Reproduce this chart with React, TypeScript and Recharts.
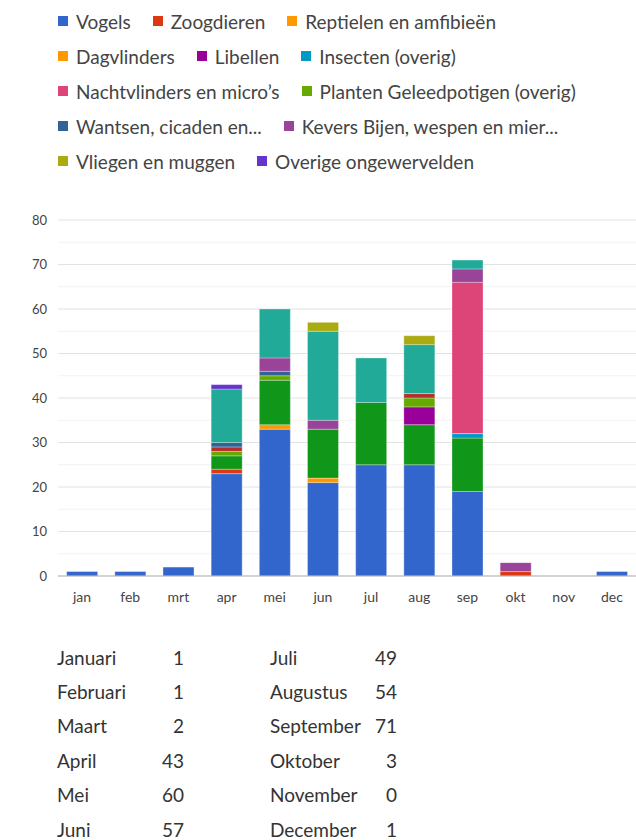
import { Bar, BarChart, CartesianGrid, XAxis, YAxis } from 'recharts';

const MONTHS = ['jan', 'feb', 'mrt', 'apr', 'mei', 'jun', 'jul', 'aug', 'sep', 'okt', 'nov', 'dec'];
const MONTH_NAMES = [
  'Januari', 'Februari', 'Maart', 'April', 'Mei', 'Juni',
  'Juli', 'Augustus', 'September', 'Oktober', 'November', 'December',
];

// counts per month, stacked bottom to top in this order
const vogels = [1, 1, 2, 23, 33, 21, 25, 25, 19, 0, 0, 1];
const zoogdieren = [0, 0, 0, 1, 0, 0, 0, 0, 0, 1, 0, 0];
const reptielen = [0, 0, 0, 0, 1, 1, 0, 0, 0, 0, 0, 0];
const dagvlinders = [0, 0, 0, 3, 10, 11, 14, 9, 12, 0, 0, 0];
const libellen = [0, 0, 0, 0, 0, 0, 0, 4, 0, 0, 0, 0];
const insecten = [0, 0, 0, 0, 0, 0, 0, 0, 1, 0, 0, 0];
const nachtvlinders = [0, 0, 0, 0, 0, 0, 0, 0, 34, 0, 0, 0];
const planten = [0, 0, 0, 1, 1, 0, 0, 2, 0, 0, 0, 0];
const geleedpotigen = [0, 0, 0, 1, 0, 0, 0, 1, 0, 0, 0, 0];
const wantsen = [0, 0, 0, 1, 1, 0, 0, 0, 0, 0, 0, 0];
const kevers = [0, 0, 0, 0, 3, 2, 0, 0, 3, 2, 0, 0];
const bijen = [0, 0, 0, 12, 11, 20, 10, 11, 2, 0, 0, 0];
const vliegen = [0, 0, 0, 0, 0, 2, 0, 2, 0, 0, 0, 0];
const overige = [0, 0, 0, 1, 0, 0, 0, 0, 0, 0, 0, 0];

const Y_TICKS = [0, 10, 20, 30, 40, 50, 60, 70, 80];
const Y_MINOR = [5, 15, 25, 35, 45, 55, 65, 75];

const LEGEND_ROWS = [
  ['Vogels', 'Zoogdieren', 'Reptielen en amfibieën'],
  ['Dagvlinders', 'Libellen', 'Insecten (overig)'],
  ['Nachtvlinders en micro’s', 'Planten Geleedpotigen (overig)'],
  ['Wantsen, cicaden en...', 'Kevers Bijen, wespen en mier...'],
  ['Vliegen en muggen', 'Overige ongewervelden'],
];

const SERIES = [
  { key: 'vogels', values: vogels, color: '#3366cc' },
  { key: 'zoogdieren', values: zoogdieren, color: '#dc3912' },
  { key: 'reptielen', values: reptielen, color: '#ff9900' },
  { key: 'dagvlinders', values: dagvlinders, color: '#109618' },
  { key: 'libellen', values: libellen, color: '#990099' },
  { key: 'insecten', values: insecten, color: '#0099c6' },
  { key: 'nachtvlinders', values: nachtvlinders, color: '#dd4477' },
  { key: 'planten', values: planten, color: '#66aa00' },
  { key: 'geleedpotigen', values: geleedpotigen, color: '#b82e2e' },
  { key: 'wantsen', values: wantsen, color: '#316395' },
  { key: 'kevers', values: kevers, color: '#994499' },
  { key: 'bijen', values: bijen, color: '#22aa99' },
  { key: 'vliegen', values: vliegen, color: '#aaaa11' },
  { key: 'overige', values: overige, color: '#6633cc' },
];

const LEGEND_COLORS: Record<string, string> = {
  Vogels: '#3366cc',
  Zoogdieren: '#dc3912',
  'Reptielen en amfibieën': '#ff9900',
  Dagvlinders: '#ff9900',
  Libellen: '#990099',
  'Insecten (overig)': '#0099c6',
  'Nachtvlinders en micro’s': '#dd4477',
  'Planten Geleedpotigen (overig)': '#66aa00',
  'Wantsen, cicaden en...': '#316395',
  'Kevers Bijen, wespen en mier...': '#994499',
  'Vliegen en muggen': '#aaaa11',
  'Overige ongewervelden': '#6633cc',
};

const FONT = 'Lato, "Noto Sans", sans-serif';

const data = MONTHS.map((month, i) => {
  const row: Record<string, string | number> = { month };
  SERIES.forEach((s) => {
    row[s.key] = s.values[i];
  });
  return row;
});

const totals = MONTHS.map((_, i) => SERIES.reduce((sum, s) => sum + s.values[i], 0));

function Legend() {
  return (
    <div style={{ position: 'absolute', left: 58, top: 7 }}>
      {LEGEND_ROWS.map((row, r) => (
        <div key={r} style={{ display: 'flex', height: 35, alignItems: 'flex-start' }}>
          {row.map((label) => (
            <div key={label} style={{ display: 'flex', alignItems: 'center', marginRight: 22, height: 28 }}>
              <span
                style={{ display: 'inline-block', width: 10, height: 10, background: LEGEND_COLORS[label], marginRight: 8 }}
              />
              <span style={{ fontSize: 19, color: '#444', whiteSpace: 'nowrap' }}>{label}</span>
            </div>
          ))}
        </div>
      ))}
    </div>
  );
}

function TotalsTable() {
  const cols = [0, 6];
  return (
    <>
      {cols.map((start, c) => (
        <div key={c} style={{ position: 'absolute', left: c === 0 ? 57 : 270, top: 640 }}>
          {MONTH_NAMES.slice(start, start + 6).map((name, i) => (
            <div key={name} style={{ display: 'flex', height: 34.4, alignItems: 'center', fontSize: 19, color: '#333' }}>
              <span style={{ width: 100 }}>{name}</span>
              <span style={{ width: 27, textAlign: 'right' }}>{totals[start + i]}</span>
            </div>
          ))}
        </div>
      ))}
    </>
  );
}

export default function App() {
  return (
    <div
      style={{
        position: 'absolute',
        left: 0,
        top: 0,
        width: 636,
        height: 840,
        overflow: 'hidden',
        background: '#fff',
        fontFamily: FONT,
      }}
    >
      <Legend />
      <div style={{ position: 'absolute', left: 0, top: 200 }}>
        <BarChart
          width={636}
          height={420}
          data={data}
          margin={{ top: 20, right: 0, bottom: 14, left: 8 }}
          barCategoryGap="18%"
        >
          <CartesianGrid vertical={false} stroke="#f2f2f2" horizontalValues={Y_MINOR} />
          <CartesianGrid vertical={false} stroke="#e2e2e2" horizontalValues={Y_TICKS} />
          <XAxis
            dataKey="month"
            tickLine={false}
            axisLine={{ stroke: '#b5b5b5' }}
            tick={{ fontSize: 14, fill: '#444', fontFamily: FONT }}
            tickMargin={10}
            height={30}
          />
          <YAxis
            domain={[0, 80]}
            ticks={Y_TICKS}
            axisLine={false}
            tickLine={false}
            width={50}
            tickMargin={5}
            tick={{ fontSize: 13, fill: '#444', fontFamily: FONT }}
          />
          {SERIES.map((s) => (
            <Bar
              key={s.key}
              dataKey={s.key}
              stackId="a"
              fill={s.color}
              stroke="#ffffff"
              strokeOpacity={0.5}
              strokeWidth={0.6}
              isAnimationActive={false}
            />
          ))}
        </BarChart>
      </div>
      <TotalsTable />
    </div>
  );
}
